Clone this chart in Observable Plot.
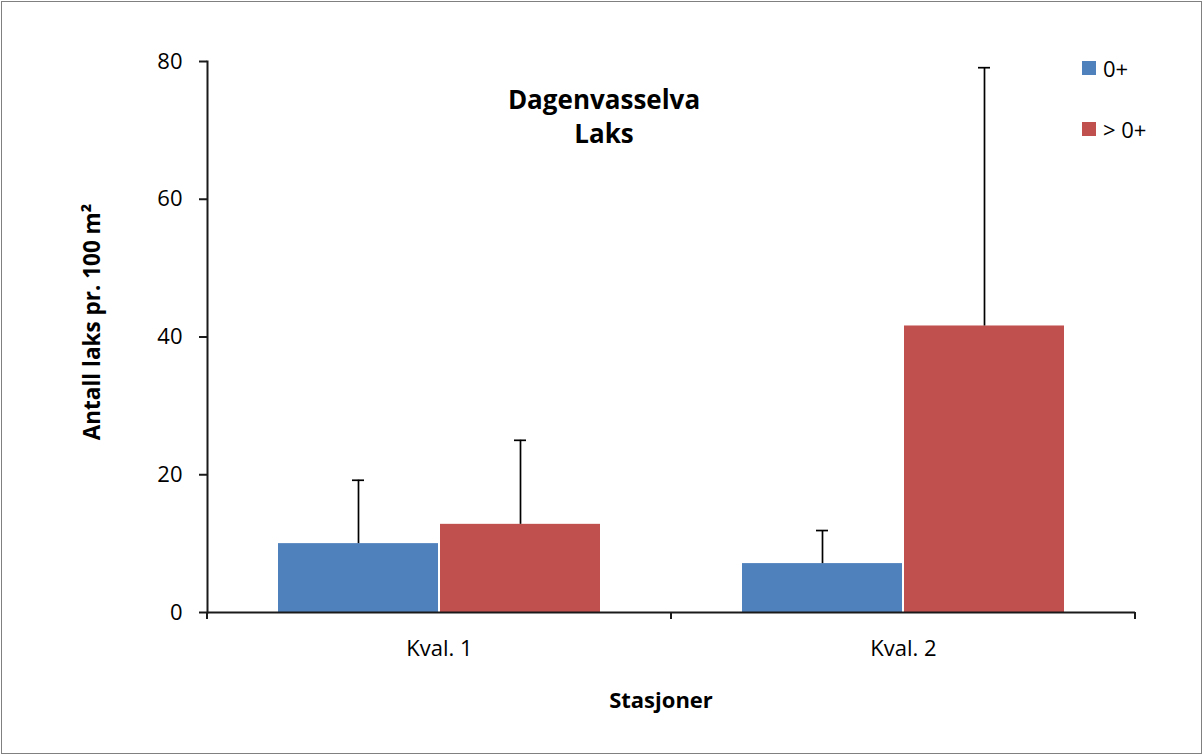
<!DOCTYPE html>
<html>
<head>
<meta charset="utf-8">
<script src="https://cdn.jsdelivr.net/npm/d3@7"></script>
<script src="https://cdn.jsdelivr.net/npm/@observablehq/plot@0.6"></script>
<style>
  html, body { margin: 0; padding: 0; background: #fff; }
  #wrap { position: relative; width: 1203px; height: 754px; font-family: "Open Sans", sans-serif; color: #000; overflow: hidden; }
  #border { position: absolute; left: 1px; top: 1px; width: 1201px; height: 753px; box-sizing: border-box; border: 1px solid #808080; pointer-events: none; }
  #chart { position: absolute; left: 0; top: 0; }
  .title { position: absolute; left: 504px; width: 200px; text-align: center; font-weight: 700; font-size: 26px; line-height: 34px; top: 82px; }
  .ylab { position: absolute; left: 91px; top: 322px; transform: translate(-50%, -50%) rotate(-90deg); white-space: nowrap; font-weight: 700; font-size: 22.5px; }
  .xlab { position: absolute; left: 661px; top: 699px; transform: translate(-50%, -50%); white-space: nowrap; font-weight: 700; font-size: 22px; }
  .legend { position: absolute; left: 1082px; top: 0; font-size: 22px; }
  .legend .item { position: absolute; left: 0; display: flex; align-items: center; white-space: nowrap; }
  .legend .sw { width: 14px; height: 14px; margin-right: 7px; display: inline-block; }
</style>
</head>
<body>
<div id="wrap">
  <div id="chart"></div>
  <div class="title">Dagenvasselva<br>Laks</div>
  <div class="ylab">Antall laks pr. 100 m²</div>
  <div class="xlab">Stasjoner</div>
  <div class="legend" id="legend"></div>
  <div id="border"></div>
</div>
<script>
// ---- data ----
const groups = ["Kval. 1", "Kval. 2"];
const series = ["0+", "> 0+"];
const means0 = [10.0, 7.1];      // 0+
const sd0 = [9.2, 4.8];
const means1 = [12.8, 41.6];     // > 0+
const sd1 = [12.2, 37.5];
const colors = ["#4F81BD", "#C0504D"];
const yTicks = [0, 20, 40, 60, 80];

const data = [];
groups.forEach((g, i) => {
  data.push({group: g, series: series[0], value: means0[i], sd: sd0[i]});
  data.push({group: g, series: series[1], value: means1[i], sd: sd1[i]});
});

const axisColor = "#1a1a1a";

function boundaryTicks(index, scales) {
  if (!scales.x || !scales.x.range || !scales.y) return null;
  const [x0, x1] = scales.x.range();
  const y0 = scales.y(0);
  const g = d3.create("svg:g").attr("stroke", axisColor).attr("stroke-width", 2);
  for (const x of [x0, x1]) {
    g.append("line").attr("x1", x).attr("x2", x).attr("y1", y0).attr("y2", y0 + 7);
  }
  return g.node();
}

const chart = Plot.plot({
  width: 1203,
  height: 754,
  marginTop: 61,
  marginBottom: 142,
  marginLeft: 207,
  marginRight: 68,
  style: {fontFamily: "'Open Sans', sans-serif", fontSize: "22px", color: "#000", background: "transparent"},
  fx: {domain: groups, padding: 0, label: null},
  x: {domain: series, paddingInner: 0.0123, paddingOuter: 0.4295, axis: null},
  y: {domain: [0, 80], label: null},
  color: {domain: series, range: colors},
  marks: [
    Plot.barY(data, {fx: "group", x: "series", y: "value", fill: "series"}),
    Plot.ruleX(data, {fx: "group", x: "series", y1: "value", y2: d => d.value + d.sd, stroke: "#000", strokeWidth: 1.7}),
    Plot.tickY(data, {fx: "group", x: "series", y: d => d.value + d.sd, stroke: "#000", strokeWidth: 1.7, insetLeft: 74, insetRight: 74}),
    Plot.ruleY([0], {stroke: axisColor, strokeWidth: 2}),
    Plot.frame({anchor: "left", facetAnchor: "left", stroke: axisColor, strokeWidth: 2}),
    boundaryTicks,
    Plot.axisY({ticks: yTicks, tickSize: 8, tickPadding: 17, tickFormat: d => d, label: null, stroke: axisColor, strokeWidth: 2, fontSize: 22}),
    Plot.axisFx({anchor: "bottom", tickSize: 0, tickPadding: 28, label: null, fontSize: 22})
  ]
});
document.getElementById("chart").appendChild(chart);

// legend
const legend = document.getElementById("legend");
const legendTops = [61, 122];
series.forEach((s, i) => {
  const item = document.createElement("div");
  item.className = "item";
  item.style.top = (legendTops[i] - 8) + "px";
  item.style.height = "30px";
  const sw = document.createElement("span");
  sw.className = "sw";
  sw.style.background = colors[i];
  const tx = document.createElement("span");
  tx.textContent = s;
  item.appendChild(sw);
  item.appendChild(tx);
  legend.appendChild(item);
});
</script>
</body>
</html>
